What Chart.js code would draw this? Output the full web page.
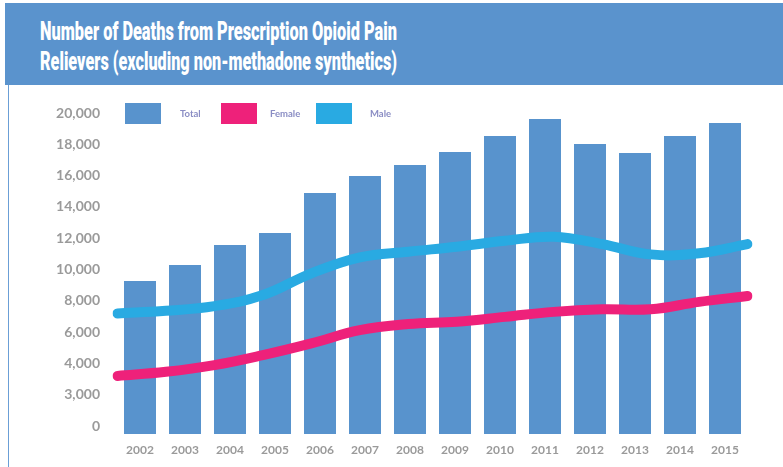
<!DOCTYPE html>
<html>
<head>
<meta charset="utf-8">
<script src="https://cdn.jsdelivr.net/npm/chart.js@4"></script>
<style>
  html, body { margin: 0; padding: 0; background: #ffffff; }
  #wrap { position: relative; width: 783px; height: 467px; overflow: hidden; background: #fff; }
  #banner { position: absolute; left: 5px; top: 3px; width: 778px; height: 82px; background: #5a93cd; }
  #leftline { position: absolute; left: 8px; top: 85px; width: 1px; height: 382px; background: #6b9fd6; }
  .tl { position: absolute; left: 40px; color: #ffffff; font-family: Roboto, "Liberation Sans", sans-serif;
        font-weight: 900; font-size: 25px; line-height: 30px; white-space: nowrap; transform-origin: 0 50%; }
  #c { position: absolute; left: 0; top: 0; }
</style>
</head>
<body>
<div id="wrap">
  <div id="banner"></div>
  <div id="leftline"></div>
  <div class="tl" id="t1" style="top:17px">Number of Deaths from Prescription Opioid Pain</div>
  <div class="tl" id="t2" style="top:47px">Relievers (excluding non-methadone synthetics)</div>
  <canvas id="c" width="783" height="467"></canvas>
</div>
<script>
// ---- data ----
const years = ['2002','2003','2004','2005','2006','2007','2008','2009','2010','2011','2012','2013','2014','2015'];
const totalDeaths = [9270, 10290, 11570, 12330, 14890, 15980, 16680, 17510, 18530, 19620, 18020, 17450, 18530, 19360];
const femaleDeaths = [3210, 3470, 3900, 4540, 5290, 6130, 6520, 6670, 6980, 7300, 7460, 7460, 7940, 8310];
const maleDeaths = [7200, 7370, 7670, 8370, 9760, 10780, 11140, 11460, 11840, 12100, 11630, 10970, 11040, 11630];
const tickValues = [0, 2000, 4000, 6000, 8000, 10000, 12000, 14000, 16000, 18000, 20000];
const tickLabels = ['0', '3,000', '4,000', '6,000', '8,000', '10,000', '12,000', '14,000', '16,000', '18,000', '20,000'];
const seriesNames = ['Total', 'Female', 'Male'];

// fit title lines to target width (condensed look)
(function fitTitle(){
  const target = 357;
  ['t1','t2'].forEach(id => {
    const el = document.getElementById(id);
    const w = el.getBoundingClientRect().width;
    if (w > 0) el.style.transform = 'scaleX(' + (target / w) + ')';
  });
})();

const BLUE = '#5893cd', PINK = '#ee217a', CYAN = '#29aae2';

const legendPlugin = {
  id: 'customLegend',
  afterDraw(chart) {
    const ctx = chart.ctx;
    const boxX = [125, 221, 316];
    const textX = [180, 270, 370];
    const y = 103, bw = 36, bh = 21;
    ctx.save();
    ctx.font = '700 9.5px Lato, "Open Sans", sans-serif';
    ctx.textBaseline = 'middle';
    ctx.textAlign = 'left';
    chart.data.datasets.forEach((ds, i) => {
      ctx.fillStyle = ds.legendColor;
      ctx.fillRect(boxX[i], y, bw, bh);
      ctx.fillStyle = '#8a8dc4';
      ctx.fillText(ds.label, textX[i], y + bh / 2 + 0.5);
    });
    ctx.restore();
  }
};

new Chart(document.getElementById('c'), {
  data: {
    labels: years,
    datasets: [
      { type: 'bar', label: seriesNames[0], data: totalDeaths, backgroundColor: BLUE, legendColor: BLUE,
        xAxisID: 'x', base: -500, grouped: false, barPercentage: 0.711, categoryPercentage: 1.0, order: 2 },
      { type: 'line', label: seriesNames[1], data: femaleDeaths, borderColor: PINK, legendColor: PINK,
        xAxisID: 'x2', borderWidth: 10, pointRadius: 0, tension: 0.4, fill: false,
        borderCapStyle: 'round', borderJoinStyle: 'round', order: 1 },
      { type: 'line', label: seriesNames[2], data: maleDeaths, borderColor: CYAN, legendColor: CYAN,
        xAxisID: 'x2', borderWidth: 10, pointRadius: 0, tension: 0.4, fill: false,
        borderCapStyle: 'round', borderJoinStyle: 'round', order: 0 }
    ]
  },
  options: {
    responsive: false,
    animation: false,
    devicePixelRatio: 1,
    layout: { padding: { left: 0, right: 35.5, top: 113, bottom: 0 } },
    plugins: { legend: { display: false }, tooltip: { enabled: false }, title: { display: false } },
    scales: {
      x: {
        type: 'category', offset: true,
        grid: { display: false, drawTicks: false }, border: { display: false },
        ticks: { color: '#9a9a9a', font: { family: 'Lato, "Open Sans", sans-serif', size: 12, weight: '700' }, padding: 9, maxRotation: 0, autoSkip: false },
        afterFit(s) { s.height = 33; }
      },
      x2: { type: 'category', offset: false, display: false, labels: years },
      y: {
        type: 'linear', min: -500, max: 20000,
        grid: { display: false, drawTicks: false }, border: { display: false },
        afterBuildTicks(s) { s.ticks = tickValues.map(v => ({ value: v })); },
        ticks: {
          color: '#9a9a9a', font: { family: 'Lato, "Open Sans", sans-serif', size: 14, weight: '700' }, padding: 17.5,
          callback: function(v) { const i = tickValues.indexOf(v); return i >= 0 ? tickLabels[i] : ''; }
        },
        afterFit(s) { s.width = 117.5; }
      }
    }
  },
  plugins: [legendPlugin]
});
</script>
</body>
</html>
